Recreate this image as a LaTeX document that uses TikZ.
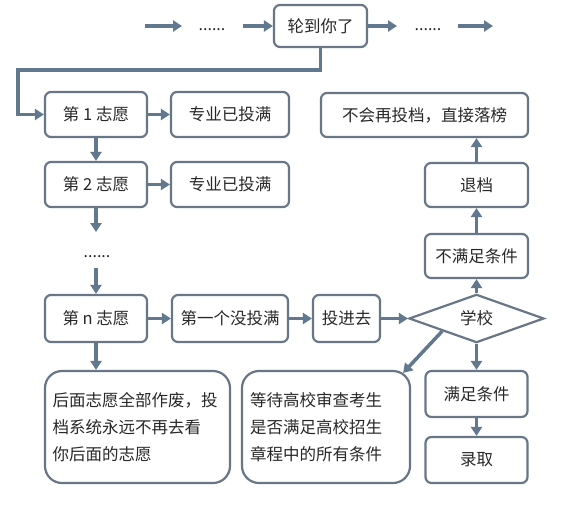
\documentclass[tikz,border=0pt]{standalone}
\usepackage{fontspec}
\setmainfont{Noto Sans CJK SC}
\usetikzlibrary{arrows.meta,shapes.geometric,calc}
\definecolor{edgec}{RGB}{104,118,134}
\definecolor{arrc}{RGB}{98,120,143}
\definecolor{txtc}{RGB}{40,40,40}
\begin{document}
\begin{tikzpicture}[x=1pt,y=-1pt,
  box/.style={draw=edgec, line width=2.2pt, rounded corners=6pt, fill=white, text=txtc,
    font=\fontsize{16.5}{20}\selectfont, inner sep=0pt},
  bigbox/.style={box, rounded corners=17pt, align=left, font=\fontsize{16.5}{27}\selectfont},
  arr/.style={draw=arrc, line width=3.5pt, -{Triangle[length=9pt,width=11pt]}},
  dotsn/.style={text=txtc, font=\fontsize{16}{18}\selectfont, inner sep=0pt}]
\fill[white] (0,0) rectangle (575,506);
\useasboundingbox (0,0) rectangle (575,506);

% top row
\node[box, minimum width=93pt, minimum height=42pt] (A) at (320.5,26) {轮到你了};
\coordinate (t1) at (145,26);
\coordinate (t2) at (182,26);
\node[dotsn] (d1) at (212,30) {......};
\coordinate (t3) at (243,26);
\coordinate (t4) at (397,26);
\node[dotsn] (d2) at (428,30) {......};
\coordinate (t5) at (458,26);
\coordinate (t6) at (493,26);
\draw[arr] (t1) -- (t2);
\draw[arr] (t3) -- (A);
\draw[arr] (A) -- (t4);
\draw[arr] (t5) -- (t6);

% left column
\node[box, minimum width=102pt, minimum height=45pt] (c1) at (96,114.5) {第 1 志愿};
\node[box, minimum width=118pt, minimum height=45pt] (z1) at (230,114.5) {专业已投满};
\node[box, minimum width=102pt, minimum height=45pt] (c2) at (96,184.5) {第 2 志愿};
\node[box, minimum width=118pt, minimum height=45pt] (z2) at (230,184.5) {专业已投满};
\coordinate (e1) at (96,232);
\node[dotsn] (d3) at (97,257) {......};
\coordinate (e2) at (96,268);
\node[box, minimum width=102pt, minimum height=47pt] (cn) at (96,318.5) {第 n 志愿};
\node[box, minimum width=116pt, minimum height=47pt] (fn) at (230,318.5) {第一个没投满};
\node[box, minimum width=67pt, minimum height=47pt] (tj) at (346.5,318.5) {投进去};
\node[diamond, draw=edgec, line width=2.2pt, fill=white, text=txtc, inner sep=0pt,
  font=\fontsize{16.5}{20}\selectfont, minimum width=135pt, minimum height=45pt] (sc) at (476.5,318.5) {学校};

% right column
\node[box, minimum width=103pt, minimum height=44pt] (bm) at (476.5,256) {不满足条件};
\node[box, minimum width=103pt, minimum height=44pt] (td) at (476.5,185) {退档};
\node[box, minimum width=207pt, minimum height=44pt] (bh) at (424.5,115) {不会再投档，直接落榜};
\node[box, minimum width=102pt, minimum height=46pt] (mz) at (476.5,394) {满足条件};
\node[box, minimum width=102pt, minimum height=46pt] (lq) at (476.5,460) {录取};

% bottom big boxes
\node[bigbox, minimum width=185pt, minimum height=112pt, text width=170pt] (hm) at (137.5,427)
  {后面志愿全部作废，投\\档系统永远不再去看\\你后面的志愿};
\node[bigbox, minimum width=168pt, minimum height=112pt, text width=152pt] (dd) at (326,427)
  {等待高校审查考生\\是否满足高校招生\\章程中的所有条件};

% connectors
\coordinate (k1) at (320.5,70);
\coordinate (k2) at (18,70);
\draw[arr] (A.south) -- (k1) -- (k2) |- (c1.west);
\draw[arr] (c1) -- (z1);
\draw[arr] (c1) -- (c2);
\draw[arr] (c2) -- (z2);
\draw[arr] (c2) -- (e1);
\draw[arr] (e2) -- (cn);
\draw[arr] (cn) -- (fn);
\draw[arr] (fn) -- (tj);
\draw[arr] (tj) -- (sc);
\draw[arr] (cn.south) -- (cn.south |- hm.north);
\draw[arr] (sc) -- (bm);
\draw[arr] (bm) -- (td);
\draw[arr] (td.north) -- (td.north |- bh.south);
\draw[arr] (sc) -- (mz);
\draw[arr] (mz) -- (lq);
\draw[arr] (sc.south west) -- ($(dd.north east)+(-8,3)$);
\end{tikzpicture}
\end{document}
